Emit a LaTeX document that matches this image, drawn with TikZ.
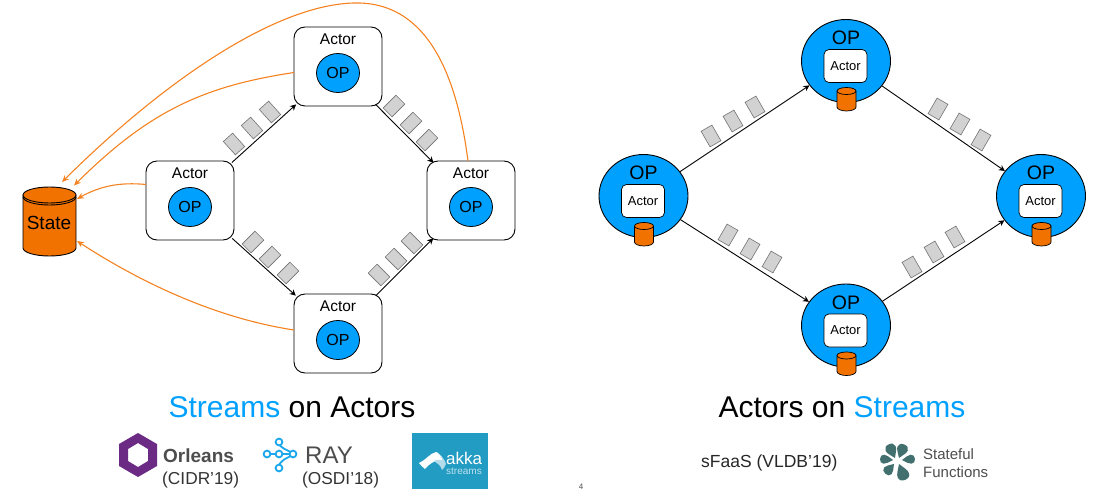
\documentclass[tikz,border=0pt]{standalone}
\usepackage{fontspec}
\setmainfont{Liberation Sans}
\usetikzlibrary{arrows.meta,calc,shapes.geometric}
\definecolor{opblue}{HTML}{00A0FF}
\definecolor{stor}{HTML}{F27200}
\definecolor{curveor}{HTML}{F58220}
\definecolor{parcelgray}{HTML}{D2D2D2}
\definecolor{purp}{HTML}{6B2A84}
\definecolor{raybl}{HTML}{1AA7EC}
\definecolor{akka}{HTML}{239CC3}
\definecolor{flower}{HTML}{41706F}
\definecolor{logogray}{HTML}{4D4D4D}
\tikzset{
  actorbox/.style={draw=black,line width=0.9pt,rounded corners=11pt,fill=white,minimum width=88pt,minimum height=79pt,inner sep=0pt},
  opsmall/.style={draw=black,line width=0.8pt,fill=opblue,ellipse,minimum width=43pt,minimum height=39pt,inner sep=0pt,font=\fontsize{16}{16}\selectfont},
  atxt/.style={font=\fontsize{15.5}{15.5}\selectfont,inner sep=0pt},
  opbig/.style={draw=black,line width=0.9pt,fill=opblue,ellipse,minimum width=89pt,minimum height=83pt,inner sep=0pt},
  optxt/.style={font=\fontsize{19.5}{19.5}\selectfont,inner sep=0pt},
  actorin/.style={draw=black,line width=0.7pt,rounded corners=5pt,fill=white,minimum width=43pt,minimum height=33pt,inner sep=0pt,font=\fontsize{13}{13}\selectfont},
  parcel/.style={draw=black!55,line width=0.6pt,fill=parcelgray,minimum width=12.5pt,minimum height=18pt,inner sep=0pt},
  flow/.style={draw=black,line width=0.9pt,-{Stealth[length=6pt,width=6pt]}},
  save/.style={draw=curveor,line width=1.1pt,-{Stealth[length=7pt,width=6pt]}},
  title/.style={font=\fontsize{30}{30}\selectfont,inner sep=0pt},
  small/.style={font=\fontsize{17.3}{17.3}\selectfont,inner sep=0pt,text=black!80},
}
% small cylinder centred at (#1,#2)
\newcommand{\smallcyl}[2]{%
  \fill[stor] (#1-9.5,#2-8) -- (#1-9.5,#2+8) arc[start angle=180,end angle=0,x radius=9.5,y radius=4] -- (#1+9.5,#2-8) -- cycle;
  \draw[black,line width=0.7pt] (#1-9.5,#2-8) -- (#1-9.5,#2+8) arc[start angle=180,end angle=0,x radius=9.5,y radius=4] -- (#1+9.5,#2-8);
  \draw[black,line width=0.7pt,fill=stor] (#1,#2-8) ellipse[x radius=9.5,y radius=3.5];
}
% petal: point x, point y, page angle, length, half width
\newcommand{\petal}[5]{%
  \pgfmathsetmacro{\La}{0.35*#4}\pgfmathsetmacro{\Lb}{0.5*#4}\pgfmathsetmacro{\Lc}{0.7*#4}\pgfmathsetmacro{\Ld}{0.9*#4}%
  \pgfmathsetmacro{\Ra}{0.6*#5}%
  \fill[flower,shift={(#1,#2)},rotate=#3] (0,0) .. controls (\La,-\Ra) and (\Lb,-#5) .. (\Lc,-#5) .. controls (\Ld,-#5) and (#4,-\Ra) .. (#4,0) .. controls (#4,\Ra) and (\Ld,#5) .. (\Lc,#5) .. controls (\Lb,#5) and (\La,\Ra) .. (0,0) -- cycle;
}
\begin{document}
\begin{tikzpicture}[x=1pt,y=-1pt]
\useasboundingbox (0,0) rectangle (1114,497);
% ---------- left diagram
\node[actorbox] (aL) at (190,200.5) {};
\node[actorbox] (aT) at (338,66.5) {};
\node[actorbox] (aR) at (471,200.5) {};
\node[actorbox] (aB) at (338,333.5) {};
\foreach \n/\x/\y in {aL/190/200.5,aT/338/66.5,aR/471/200.5,aB/338/333.5}{
  \node[atxt] (\n t) at (\x,\y-27) {Actor};
  \node[opsmall] (\n o) at (\x,\y+6.5) {OP};
}
\draw[flow,shorten <=-3pt,shorten >=-3pt] (aL) -- (aT);
\draw[flow,shorten <=-3pt,shorten >=-3pt] (aT) -- (aR);
\draw[flow,shorten <=-3pt,shorten >=-3pt] (aL) -- (aB);
\draw[flow,shorten <=-3pt,shorten >=-3pt] (aB) -- (aR);
\foreach \x/\y/\r/\k in {234/144/42/a,252/128/42/b,270/112/42/c,394/106/-45/d,411/123/-45/e,427/140/-45/f,253/242/-45/g,270/257/-45/h,288/273/-45/i,379/275/45/j,396/259/45/k,412/243/45/l}{
  \node[parcel,rotate=\r] (p\k) at (\x,\y) {};
}
% State cylinder
\fill[stor] (23,195) -- (23,248) arc[start angle=180,end angle=0,x radius=26.5,y radius=8] -- (76,195) -- cycle;
\draw[black,line width=0.9pt] (23,195) -- (23,248) arc[start angle=180,end angle=0,x radius=26.5,y radius=8] -- (76,195);
\draw[black,line width=0.9pt,fill=stor] (49.5,195) ellipse[x radius=26.5,y radius=8];
\draw[black,line width=0.9pt] (23,197) arc[start angle=180,end angle=0,x radius=26.5,y radius=8];
\node[inner sep=0pt,font=\fontsize{19}{19}\selectfont] (state) at (49,222.5) {State};
\coordinate (s1) at (62,182);
\coordinate (s2) at (74,185.5);
\coordinate (s3) at (77,199);
\coordinate (s4) at (77,241);
\coordinate (r1) at (468,161);
\coordinate (t1) at (294,72.5);
\coordinate (l1) at (146,184.5);
\coordinate (b1) at (294,330);
\draw[save] (r1) .. controls (455,60) and (420,5) .. (360,3) .. controls (280,1) and (165,80) .. (s1);
\draw[save] (t1) .. controls (205,86) and (150,110) .. (s2);
\draw[save] (l1) .. controls (120,182) and (100,186) .. (s3);
\draw[save] (b1) .. controls (215,318) and (140,282) .. (s4);
% ---------- right diagram
\node[opbig] (oL) at (643.5,196) {};
\node[opbig] (oT) at (846,61) {};
\node[opbig] (oR) at (1041,196) {};
\node[opbig] (oB) at (846,325.5) {};
\foreach \n/\x/\y in {oL/643.5/196,oT/846/61,oR/1041/196,oB/846/325.5}{
  \node[optxt] (\n t) at (\x,\y-23) {OP};
  \node[actorin] (\n a) at (\x-0.5,\y+5) {Actor};
  \smallcyl{\x+0.5}{\y+38}
}
\draw[flow] (oL) -- (oT);
\draw[flow] (oT) -- (oR);
\draw[flow] (oL) -- (oB);
\draw[flow] (oB) -- (oR);
\foreach \x/\y/\r/\k in {711/136/30/a,733/121/30/b,755/107/30/c,938/109/-30/d,960/124/-30/e,981/140/-30/f,728/235/-30/g,750/249/-30/h,772/262/-30/i,912/267/30/j,934/252/30/k,955/237/30/l}{
  \node[parcel,rotate=\r] (q\k) at (\x,\y) {};
}
% ---------- titles
\node[title] (tl) at (292,407) {\textcolor{opblue}{Streams} on Actors};
\node[title] (tr) at (842,407) {Actors on \textcolor{opblue}{Streams}};
% ---------- Orleans logo
\fill[purp,even odd rule] (138,433) -- (157,444) -- (157,466) -- (138,477) -- (119,466) -- (119,444) -- cycle
  (138,443) -- (148,449) -- (148,461) -- (138,467) -- (128,461) -- (128,449) -- cycle;
\node[inner sep=0pt,text=logogray,font=\bfseries\fontsize{19}{19}\selectfont,anchor=west] (orl) at (163,456) {Orleans};
\node[small,anchor=west] (cidr) at (162,480) {(CIDR’19)};
% ---------- RAY logo
\begin{scope}[raybl,line width=1.8pt]
\draw (267,454) -- (293,454);
\draw (279,442) .. controls (279,449) and (288,449) .. (293,454) .. controls (288,459) and (279,459) .. (279,468);
\foreach \x/\y in {267/454,279/454,293/454,279/442,279/468}{\draw[fill=white] (\x,\y) circle[radius=3.4];}
\end{scope}
\node[inner sep=0pt,text=logogray,font=\fontsize{24}{24}\selectfont,anchor=west] (ray) at (305,455) {RAY};
\node[small,anchor=west] (osdi) at (302,480) {(OSDI’18)};
% ---------- Akka logo
\fill[akka] (412,433) rectangle (488,489);
\fill[white] (419,463) .. controls (425,461) and (430,453) .. (436,452) .. controls (438,452) and (441,456) .. (443,460) .. controls (437,459) and (430,463) .. (425,469) .. controls (423,468) and (421,465) .. (419,463) -- cycle;
\fill[white!65!akka] (436,452) .. controls (440,453) and (445,460) .. (446,464) .. controls (445,467) and (443,469) .. (442,470) .. controls (441,466) and (438,463) .. (433,461) .. controls (436,460) and (440,459.5) .. (443,460) .. controls (441,456) and (438,452) .. (436,452) -- cycle;
\node[inner sep=0pt,text=white,font=\fontsize{17}{17}\selectfont,anchor=west] (akk) at (446,458.5) {akka};
\node[inner sep=0pt,text=white!70!akka,font=\fontsize{10}{10}\selectfont,anchor=west] (str) at (446,471) {streams};
% ---------- right logos
\node[small,text=black!85,anchor=west,font=\fontsize{17.5}{17.5}\selectfont] (sfaas) at (701,463) {sFaaS (VLDB’19)};
\petal{895}{458}{115}{15}{5.5}
\petal{899}{458}{69}{14.5}{5.5}
\petal{893}{460}{175}{13}{4.5}
\petal{902}{460}{5}{13}{4.5}
\petal{894}{464}{228}{13}{5}
\petal{899}{464}{-69}{17}{6}
\node[inner sep=0pt,text=logogray,font=\fontsize{15}{15}\selectfont,anchor=west] (sf1) at (923,454) {Stateful};
\node[inner sep=0pt,text=logogray,font=\fontsize{15}{15}\selectfont,anchor=west] (sf2) at (923,472) {Functions};
\node[inner sep=0pt,text=black!70,font=\fontsize{8}{8}\selectfont] (pg) at (581,487) {4};
\end{tikzpicture}
\end{document}
